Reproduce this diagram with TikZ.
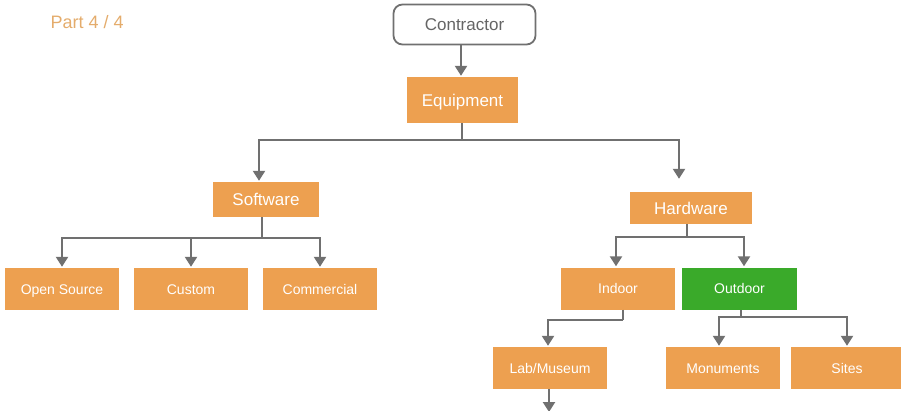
\documentclass[tikz,border=0pt]{standalone}
\usepackage{fontspec}
\setmainfont{Liberation Sans}
\usetikzlibrary{arrows.meta}
\definecolor{boxorange}{RGB}{237,160,80}
\definecolor{boxgreen}{RGB}{58,170,42}
\definecolor{linegray}{RGB}{112,112,112}
\definecolor{parttext}{RGB}{228,172,108}
\tikzset{
  obox/.style={fill=boxorange, draw=none, text=white, inner sep=0pt, font=\fontsize{17}{20}\selectfont, text height=12.2pt, text depth=0pt},
  cbox/.style={obox, font=\fontsize{14}{17}\selectfont, text height=10pt, text depth=0pt},
  gbox/.style={cbox, fill=boxgreen},
  topbox/.style={draw=linegray, line width=1.8pt, rounded corners=9pt, fill=white, text=linegray!90!black, inner sep=0pt, font=\fontsize{17}{20}\selectfont, text height=12.2pt, text depth=0pt},
  conn/.style={draw=linegray, line width=2.3pt},
  arr/.style={conn, -{Triangle[width=12pt,length=10pt]}, shorten >=1pt},
}
\begin{document}
\begin{tikzpicture}[x=1pt,y=-1pt]
\useasboundingbox (0,0) rectangle (901,410);
\node[text=parttext, font=\fontsize{18}{21}\selectfont, anchor=west] (part) at (47,22) {Part 4 / 4};

\node[topbox, minimum width=142pt, minimum height=40pt] (contractor) at (464.5,24.5) {Contractor};
\node[obox, minimum width=111pt, minimum height=46pt] (equipment) at (462.5,100) {Equipment};

\node[obox, minimum width=106pt, minimum height=35pt] (software) at (266,199.5) {Software};
\node[obox, minimum width=122pt, minimum height=32pt] (hardware) at (691,208) {Hardware};

\node[cbox, minimum width=114pt, minimum height=42pt] (opensource) at (62,289) {Open Source};
\node[cbox, minimum width=114pt, minimum height=42pt] (custom) at (191,289) {Custom};
\node[cbox, minimum width=114pt, minimum height=42pt] (commercial) at (320,289) {Commercial};

\node[cbox, minimum width=114pt, minimum height=42pt] (indoor) at (618,288.5) {Indoor};
\node[gbox, minimum width=115pt, minimum height=42pt] (outdoor) at (739.5,288.5) {Outdoor};

\node[cbox, minimum width=114pt, minimum height=42pt] (lab) at (550,368) {Lab/Museum};
\node[cbox, minimum width=114pt, minimum height=42pt] (monuments) at (723,368) {Monuments};
\node[cbox, minimum width=112pt, minimum height=42pt] (sites) at (847,368) {Sites};

% contractor -> equipment
\draw[arr] ([xshift=-3.5pt]contractor.south) -- ([xshift=-1.5pt]equipment.north);

% equipment -> software / hardware
\coordinate (busA) at (462,140);
\draw[conn] ([xshift=-0.5pt]equipment.south) -- (busA);
\draw[arr] (busA) -| ([xshift=-7pt]software.north);
\draw[arr, shorten >=13pt] (busA) -| ([xshift=-12pt]hardware.north);

% software -> children
\coordinate (busS) at (262,238);
\draw[conn] ([xshift=-4pt]software.south) -- (busS);
\draw[arr] (busS) -| (opensource.north);
\draw[arr] (busS) -| (custom.north);
\draw[arr] (busS) -| (commercial.north);

% hardware -> indoor / outdoor
\coordinate (busH) at (687,237);
\draw[conn] ([xshift=-4pt]hardware.south) -- (busH);
\draw[arr] (busH) -| ([xshift=-2pt]indoor.north);
\draw[arr] (busH) -| ([xshift=4.5pt]outdoor.north);

% indoor -> lab
\coordinate (busI) at (623,320);
\draw[conn] ([xshift=5pt]indoor.south) -- (busI);
\draw[arr] (busI) -| ([xshift=-2pt]lab.north);

% outdoor -> monuments / sites
\coordinate (busO) at (741,317);
\draw[conn] ([xshift=1.5pt]outdoor.south) -- (busO);
\draw[arr] (busO) -| ([xshift=-4pt]monuments.north);
\draw[arr] (busO) -| (sites.north);

% lab -> off page
\coordinate (labend) at (549,412);
\draw[arr, shorten >=0pt] ([xshift=-1pt]lab.south) -- (labend);
\end{tikzpicture}
\end{document}
